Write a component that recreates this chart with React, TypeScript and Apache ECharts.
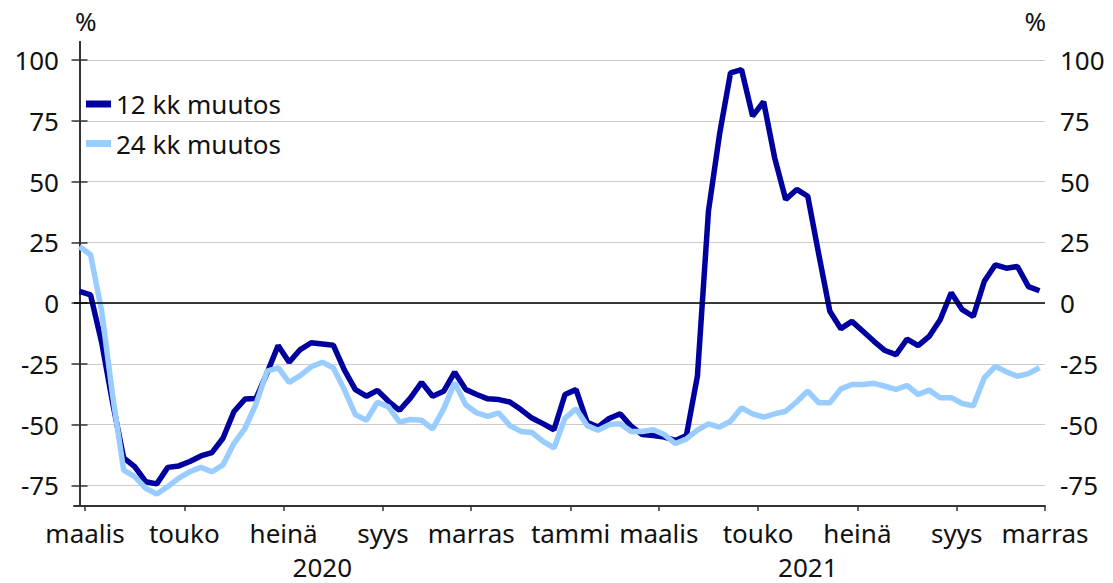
import React, { useEffect, useRef } from "react";
import * as echarts from "echarts";

// Weekly observations, March 2020 – November 2021 (index = week number)
const change12 = [
  4.8, 3.4, -16, -41, -63.7, -67.3, -73.5, -74.4, -67.6, -67, -65.2, -62.9, -61.5, -55.6, -44.6, -39.5,
  -39.2, -28.7, -17.4, -24.3, -19.1, -16.3, -16.8, -17.3, -27.5, -35.6, -38.3, -35.9, -40.4, -44.1, -39.0,
  -32.6, -38.3, -36.3, -28.4, -35.5, -37.6, -39.4, -39.7, -40.7, -43.8, -47.3, -49.6, -52.1, -37.6, -35.6,
  -49.0, -51.0, -47.5, -45.5, -50.7, -54.1, -54.5, -55.1, -56.5, -54.5, -30.0, 37.9, 69.4, 94.8, 96.1,
  77.0, 82.9, 59.8, 42.7, 46.8, 44.0, 20.0, -3.3, -10.5, -7.5, -11.6, -15.7, -19.5, -21.2, -14.8, -17.5,
  -13.7, -6.8, 4.3, -2.7, -5.5, 9, 15.8, 14.4, 15.1, 6.8, 5.1,
];
const change24 = [
  23.3, 19.9, -3, -38, -68.7, -71.4, -76.2, -78.6, -75.5, -72, -69.4, -67.6, -69.4, -66.6, -57.7, -51.5,
  -41.5, -28.0, -26.6, -32.6, -29.8, -26.2, -24.3, -26.6, -35.6, -45.9, -48.2, -40.8, -42.7, -49.0, -47.9,
  -48.2, -51.8, -43.5, -32.8, -41.8, -45.2, -46.6, -45.2, -50.4, -52.8, -53.2, -56.9, -59.6, -47.3, -43.5,
  -50.4, -52.3, -50.0, -49.6, -52.8, -52.8, -52.1, -54.1, -57.8, -55.9, -52.3, -49.7, -51.0, -48.6, -43.1,
  -45.6, -46.9, -45.6, -44.5, -40.6, -36.2, -41.0, -41.0, -35.3, -33.5, -33.5, -33.0, -34.2, -35.5, -33.9,
  -37.6, -35.8, -38.9, -38.9, -41.3, -42.3, -30.7, -26.0, -28.3, -30.1, -29.0, -26.6,
];

// Month boundaries (between weeks) and their labels
const monthTickPos = [0.5, 9.5, 18.5, 27.5, 35.5, 44.5, 52.5, 61.5, 70.5, 79.5, 87.5];
const monthLabels = ["maalis", "touko", "heinä", "syys", "marras", "tammi", "maalis", "touko", "heinä", "syys", "marras"];
const yearPos = [22, 66];
const yearLabels = ["2020", "2021"];
const yTicks = [-75, -50, -25, 0, 25, 50, 75, 100];
const seriesNames = ["12 kk muutos", "24 kk muutos"];
const seriesColors = ["#00009e", "#99ccff"];
const unitLabel = "%";

const FONT = "'Noto Sans', sans-serif";
const TEXT = "#111111";
const AXIS = "#333333";

export default function App() {
  const ref = useRef<HTMLDivElement>(null);

  useEffect(() => {
    if (!ref.current) return;
    const chart = echarts.init(ref.current, undefined, { renderer: "svg" });

    const yAxisBase = (side: "left" | "right") => ({
      type: "value",
      position: side,
      min: -83.5,
      max: 107.5,
      axisLine: { show: true, lineStyle: { color: AXIS, width: 2 } },
      axisTick: { show: true, length: 8, lineStyle: { color: AXIS, width: 1.5 }, customValues: yTicks },
      axisLabel: {
        fontFamily: FONT,
        fontSize: 26,
        color: TEXT,
        margin: 15,
        customValues: yTicks,
      },
      splitLine: { show: side === "left", lineStyle: { color: "#cccccc", width: 1.2 } },
    });

    const option = {
      animation: false,
      textStyle: { fontFamily: FONT },
      grid: { left: 74, right: 68, top: 42, bottom: 77, containLabel: false },
      graphic: [
        {
          type: "text",
          left: 75,
          top: 8,
          style: { text: unitLabel, font: `26px ${FONT}`, fill: TEXT },
        },
        {
          type: "text",
          right: 67,
          top: 8,
          style: { text: unitLabel, font: `26px ${FONT}`, fill: TEXT },
        },
      ],
      legend: {
        data: seriesNames,
        orient: "vertical",
        left: 81,
        top: 86,
        icon: "rect",
        itemWidth: 25,
        itemHeight: 7,
        itemGap: 13.5,
        textStyle: { fontFamily: FONT, fontSize: 26, color: TEXT, lineHeight: 26 },
      },
      xAxis: [
        {
          type: "value",
          min: -0.5,
          max: 87.5,
          position: "bottom",
          axisLine: { show: true, onZero: false, lineStyle: { color: AXIS, width: 2 } },
          axisTick: { show: true, length: 5, lineStyle: { color: AXIS, width: 1.5 }, customValues: monthTickPos },
          axisLabel: {
            fontFamily: FONT,
            fontSize: 26,
            color: TEXT,
            margin: 14,
            customValues: monthTickPos,
            formatter: (v: number) => {
              const k = monthTickPos.findIndex((p) => Math.abs(p - v) < 1e-6);
              return k >= 0 ? monthLabels[k] : "";
            },
          },
          splitLine: { show: false },
        },
        {
          type: "value",
          min: -0.5,
          max: 87.5,
          position: "bottom",
          offset: 0,
          axisLine: { show: false },
          axisTick: { show: false },
          axisLabel: {
            fontFamily: FONT,
            fontSize: 26,
            lineHeight: 20,
            color: TEXT,
            margin: 51,
            customValues: yearPos,
            formatter: (v: number) => {
              const k = yearPos.findIndex((p) => Math.abs(p - v) < 1e-6);
              return k >= 0 ? yearLabels[k] : "";
            },
          },
          splitLine: { show: false },
        },
      ],
      yAxis: [yAxisBase("left"), yAxisBase("right")],
      series: [
        {
          name: "zero",
          type: "line",
          data: [],
          z: 1,
          silent: true,
          markLine: {
            silent: true,
            symbol: "none",
            label: { show: false },
            lineStyle: { color: "#000000", width: 1.5, type: "solid" },
            data: [{ yAxis: 0 }],
          },
        },
        {
          name: seriesNames[0],
          type: "line",
          xAxisIndex: 0,
          yAxisIndex: 0,
          data: change12.map((v, i) => [i, v]),
          showSymbol: false,
          color: seriesColors[0],
          lineStyle: { width: 5.5, color: seriesColors[0] },
          z: 3,
        },
        {
          name: seriesNames[1],
          type: "line",
          xAxisIndex: 0,
          yAxisIndex: 0,
          data: change24.map((v, i) => [i, v]),
          showSymbol: false,
          color: seriesColors[1],
          lineStyle: { width: 5.5, color: seriesColors[1] },
          z: 4,
        },
      ],
    };

    chart.setOption(option as any);
    return () => chart.dispose();
  }, []);

  return (
    <div
      ref={ref}
      style={{ position: "absolute", left: 0, top: 0, width: 1113, height: 583, background: "#ffffff" }}
    />
  );
}
